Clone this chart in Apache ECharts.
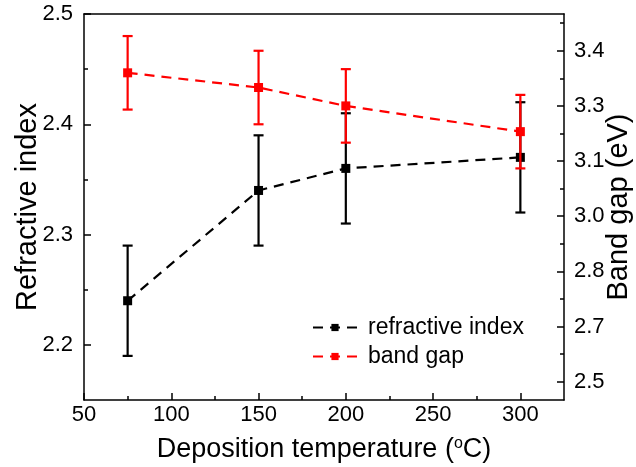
<!DOCTYPE html>
<html>
<head>
<meta charset="utf-8">
<script src="https://cdn.jsdelivr.net/npm/echarts@6/dist/echarts.min.js"></script>
<style>html,body{margin:0;padding:0;background:#fff;}#chart{width:636px;height:467px;}</style>
</head>
<body>
<div id="chart"></div>
<script>
// Data
var temperatures = [75, 150, 200, 300];
var refractiveIndex = [2.24, 2.34, 2.36, 2.37];
var refractiveErr = [0.05, 0.05, 0.05, 0.05];
var bandGap = [3.34, 3.30, 3.25, 3.18];
var bandGapErr = [0.10, 0.10, 0.10, 0.10];

// Ticks
var xTickValues = [50, 100, 150, 200, 250, 300];
var xMinorValues = [75, 125, 175, 225, 275];
var leftTickValues = [2.2, 2.3, 2.4, 2.5];
var leftTickLabels = ['2.2', '2.3', '2.4', '2.5'];
var leftMinorValues = [2.25, 2.35, 2.45];
var rightTickValues = [2.5, 2.65, 2.8, 2.95, 3.1, 3.25, 3.4];
var rightTickLabels = ['2.5', '2.7', '2.8', '3.0', '3.1', '3.3', '3.4'];
var rightMinorValues = [2.575, 2.725, 2.875, 3.025, 3.175, 3.325, 3.475];

var FONT = 'Liberation Sans, Arial, sans-serif';
var chart = echarts.init(document.getElementById('chart'), null, {renderer: 'canvas'});

function pairs(xs, ys, es) {
  return xs.map(function (x, i) { return [x, ys[i] - es[i], ys[i] + es[i]]; });
}

function errRender(color) {
  return function (params, api) {
    var x = api.value(0);
    var lo = api.coord([x, api.value(1)]);
    var hi = api.coord([x, api.value(2)]);
    var w = 5;
    var st = {stroke: color, lineWidth: 2.2};
    return {
      type: 'group',
      children: [
        {type: 'line', shape: {x1: lo[0], y1: lo[1], x2: hi[0], y2: hi[1]}, style: st},
        {type: 'line', shape: {x1: lo[0] - w, y1: lo[1], x2: lo[0] + w, y2: lo[1]}, style: st},
        {type: 'line', shape: {x1: hi[0] - w, y1: hi[1], x2: hi[0] + w, y2: hi[1]}, style: st}
      ]
    };
  };
}

function lookup(values, labels) {
  return function (v) {
    for (var i = 0; i < values.length; i++) { if (Math.abs(values[i] - v) < 1e-6) return labels[i]; }
    return '';
  };
}

var axisLine = {show: true, lineStyle: {color: '#000', width: 1.5}};
var labelStyle = {color: '#000', fontSize: 22, fontFamily: FONT};

var option = {
  animation: false,
  backgroundColor: '#fff',
  grid: {left: 84, right: 72, top: 14, bottom: 67, containLabel: false, outerBoundsMode: 'none'},
  legend: {
    orient: 'vertical',
    left: 307,
    top: 311,
    itemWidth: 44,
    itemHeight: 9,
    itemGap: 6,
    data: ['refractive index', 'band gap'],
    textStyle: {color: '#000', fontSize: 23, fontFamily: FONT, padding: [0, 0, 0, 6]}
  },
  xAxis: [
    {
      type: 'value', min: 50, max: 325, position: 'bottom',
      axisLine: axisLine,
      axisTick: {show: true, inside: true, length: 7, customValues: xTickValues, lineStyle: {color: '#000', width: 1.5}},
      axisLabel: Object.assign({customValues: xTickValues, margin: 4}, labelStyle),
      splitLine: {show: false},
      name: 'Deposition temperature ({sup|o}C)',
      nameLocation: 'middle', nameGap: 36, nameMoveOverlap: false,
      nameTextStyle: {color: '#000', fontSize: 27, fontFamily: FONT,
        rich: {sup: {fontSize: 16, verticalAlign: 'top', padding: [0, 0, 12, 0], fontFamily: FONT, color: '#000'}}}
    },
    {
      type: 'value', min: 50, max: 325, position: 'top',
      axisLine: axisLine, axisTick: {show: false}, axisLabel: {show: false}, splitLine: {show: false}
    },
    {
      type: 'value', min: 50, max: 325, position: 'bottom',
      axisLine: {show: false},
      axisTick: {show: true, inside: true, length: 4, customValues: xMinorValues, lineStyle: {color: '#000', width: 1.5}},
      axisLabel: {show: false}, splitLine: {show: false}
    }
  ],
  yAxis: [
    {
      type: 'value', min: 2.15, max: 2.5, position: 'left',
      axisLine: axisLine,
      axisTick: {show: true, inside: true, length: 7, customValues: leftTickValues, lineStyle: {color: '#000', width: 1.5}},
      axisLabel: Object.assign({customValues: leftTickValues, margin: 11, formatter: lookup(leftTickValues, leftTickLabels)}, labelStyle),
      splitLine: {show: false},
      name: 'Refractive index', nameLocation: 'middle', nameGap: 42, nameRotate: 90, nameMoveOverlap: false,
      nameTextStyle: {color: '#000', fontSize: 29, fontFamily: FONT}
    },
    {
      type: 'value', min: 2.45, max: 3.5, position: 'right',
      axisLine: axisLine,
      axisTick: {show: true, inside: true, length: 7, customValues: rightTickValues, lineStyle: {color: '#000', width: 1.5}},
      axisLabel: Object.assign({customValues: rightTickValues, margin: 10, formatter: lookup(rightTickValues, rightTickLabels)}, labelStyle),
      splitLine: {show: false},
      name: 'Band gap (eV)', nameLocation: 'middle', nameGap: 40, nameRotate: 90, nameMoveOverlap: false,
      nameTextStyle: {color: '#000', fontSize: 29, fontFamily: FONT}
    },
    {
      type: 'value', min: 2.15, max: 2.5, position: 'left',
      axisLine: {show: false},
      axisTick: {show: true, inside: true, length: 4, customValues: leftMinorValues, lineStyle: {color: '#000', width: 1.5}},
      axisLabel: {show: false}, splitLine: {show: false}
    },
    {
      type: 'value', min: 2.45, max: 3.5, position: 'right',
      axisLine: {show: false},
      axisTick: {show: true, inside: true, length: 4, customValues: rightMinorValues, lineStyle: {color: '#000', width: 1.5}},
      axisLabel: {show: false}, splitLine: {show: false}
    }
  ],
  series: [
    {
      name: 'refractive index', type: 'line', xAxisIndex: 0, yAxisIndex: 0,
      data: temperatures.map(function (x, i) { return [x, refractiveIndex[i]]; }),
      symbol: 'rect', symbolSize: 9,
      itemStyle: {color: '#000'},
      lineStyle: {color: '#000', width: 2.2, type: [10, 7]},
      z: 3
    },
    {
      name: 'refractive index err', type: 'custom', xAxisIndex: 0, yAxisIndex: 0,
      data: pairs(temperatures, refractiveIndex, refractiveErr),
      renderItem: errRender('#000'), encode: {x: 0, y: [1, 2]}, z: 3
    },
    {
      name: 'band gap', type: 'line', xAxisIndex: 0, yAxisIndex: 1,
      data: temperatures.map(function (x, i) { return [x, bandGap[i]]; }),
      symbol: 'rect', symbolSize: 9,
      itemStyle: {color: '#ff0000'},
      lineStyle: {color: '#ff0000', width: 2.2, type: [10, 7]},
      z: 5
    },
    {
      name: 'band gap err', type: 'custom', xAxisIndex: 0, yAxisIndex: 1,
      data: pairs(temperatures, bandGap, bandGapErr),
      renderItem: errRender('#ff0000'), encode: {x: 0, y: [1, 2]}, z: 5
    }
  ]
};
chart.setOption(option);
</script>
</body>
</html>
